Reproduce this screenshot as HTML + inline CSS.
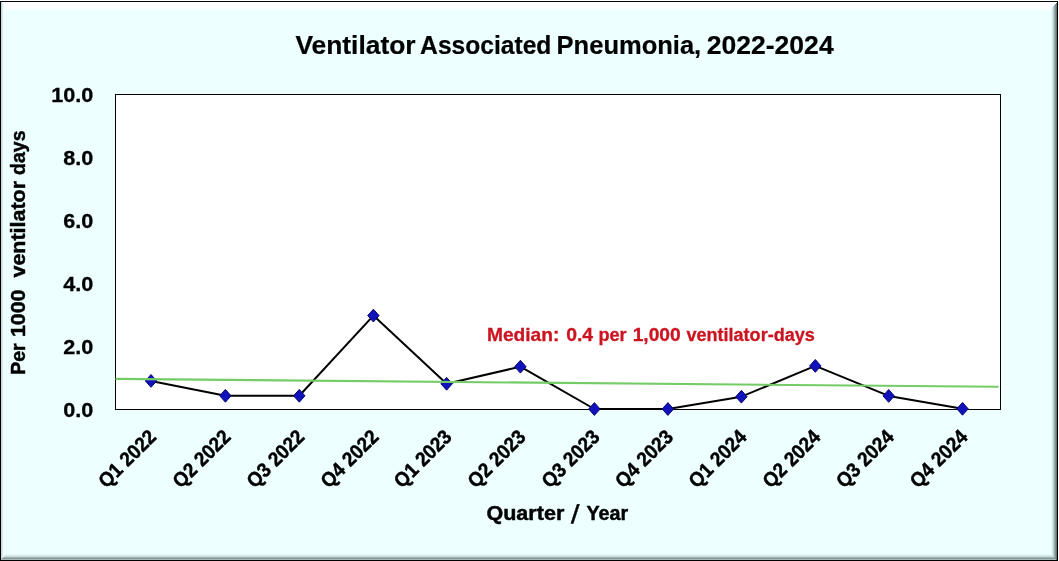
<!DOCTYPE html>
<html><head><meta charset="utf-8"><title>Ventilator Associated Pneumonia, 2022-2024</title>
<style>
html,body{margin:0;padding:0;background:#fff;width:1059px;height:561px;overflow:hidden}
svg{display:block}
text{font-family:"Liberation Sans",Arial,sans-serif;font-weight:bold;paint-order:stroke fill;white-space:pre}
</style></head><body>
<svg width="1059" height="561" viewBox="0 0 1059 561">
<rect x="0" y="0" width="1059" height="561" fill="#ffffff"/>
<rect x="1" y="2" width="1056" height="558" fill="#edffff"/>
<rect x="1" y="2" width="1056" height="1" fill="#ffffff"/>
<rect x="1" y="3" width="1056" height="1" fill="#ffffff"/>
<rect x="1" y="4" width="1056" height="1" fill="#ffffff"/>
<rect x="1" y="5" width="1056" height="1" fill="#ffffff"/>
<rect x="1" y="6" width="1056" height="1" fill="#ffffff"/>
<rect x="1" y="7" width="1056" height="1" fill="#ffffff"/>
<rect x="1" y="8" width="1056" height="1" fill="#fbffff"/>
<rect x="1" y="9" width="1056" height="1" fill="#f6ffff"/>
<rect x="1" y="10" width="1056" height="1" fill="#f1ffff"/>
<rect x="1" y="2" width="1" height="558" fill="#c6d6d6"/>
<rect x="2" y="2" width="1" height="558" fill="#deeeee"/>
<rect x="3" y="2" width="1" height="558" fill="#e8fafa"/>
<rect x="1051" y="8" width="1" height="552" fill="#e6f8f8"/>
<rect x="1052" y="7" width="1" height="553" fill="#d4e8e8"/>
<rect x="1053" y="6" width="1" height="554" fill="#b8cece"/>
<rect x="1054" y="5" width="1" height="555" fill="#9aafaf"/>
<rect x="1055" y="4" width="1" height="556" fill="#7c9191"/>
<rect x="1056" y="3" width="1" height="557" fill="#607272"/>
<rect x="6" y="554" width="1045" height="1" fill="#e6f8f8"/>
<rect x="5" y="555" width="1047" height="1" fill="#daecec"/>
<rect x="4" y="556" width="1049" height="1" fill="#c4d8d8"/>
<rect x="3" y="557" width="1051" height="1" fill="#a4b8b8"/>
<rect x="2" y="558" width="1053" height="1" fill="#839696"/>
<rect x="1" y="559" width="1055" height="1" fill="#abbcbc"/>
<rect x="0" y="1" width="1058" height="1" fill="#000"/>
<rect x="0" y="560" width="1058" height="1" fill="#000"/>
<rect x="0" y="1" width="1" height="560" fill="#000"/>
<rect x="1057" y="1" width="1" height="560" fill="#000"/>
<text transform="translate(0,54.3) translate(295.40,0) scale(1.0353,1)" font-size="25.5" fill="#000" style="stroke:#000;stroke-width:0.2px">Ventilator</text>
<text transform="translate(0,54.3) translate(420.12,0) scale(0.9657,1)" font-size="25.5" fill="#000" style="stroke:#000;stroke-width:0.2px">Associated</text>
<text transform="translate(0,54.3) translate(556.60,0) scale(1.0007,1)" font-size="25.5" fill="#000" style="stroke:#000;stroke-width:0.2px">Pneumonia,</text>
<text transform="translate(0,54.3) translate(706.72,0) scale(1.0416,1)" font-size="25.5" fill="#000" style="stroke:#000;stroke-width:0.2px">2022-2024</text>
<rect x="115.5" y="94.5" width="885" height="315" fill="#ffffff" stroke="#000" stroke-width="1"/>
<text transform="translate(93.2,409.3) scale(1.03,1)" dy="0.35em" font-size="21" text-anchor="end" fill="#000" style="stroke:#000;stroke-width:0.3px">0.0</text>
<text transform="translate(93.2,346.3) scale(1.03,1)" dy="0.35em" font-size="21" text-anchor="end" fill="#000" style="stroke:#000;stroke-width:0.3px">2.0</text>
<text transform="translate(93.2,283.3) scale(1.03,1)" dy="0.35em" font-size="21" text-anchor="end" fill="#000" style="stroke:#000;stroke-width:0.3px">4.0</text>
<text transform="translate(93.2,220.3) scale(1.03,1)" dy="0.35em" font-size="21" text-anchor="end" fill="#000" style="stroke:#000;stroke-width:0.3px">6.0</text>
<text transform="translate(93.2,157.3) scale(1.03,1)" dy="0.35em" font-size="21" text-anchor="end" fill="#000" style="stroke:#000;stroke-width:0.3px">8.0</text>
<text transform="translate(93.2,94.3) scale(1.03,1)" dy="0.35em" font-size="21" text-anchor="end" fill="#000" style="stroke:#000;stroke-width:0.3px">10.0</text>
<text transform="translate(24.9,0) rotate(-90) translate(-374.87,0) scale(0.9385,1)" font-size="20.9" fill="#000" style="stroke:#000;stroke-width:0.45px">Per</text>
<text transform="translate(24.9,0) rotate(-90) translate(-337.02,0) scale(1.0211,1)" font-size="20.9" fill="#000" style="stroke:#000;stroke-width:0.45px">1000</text>
<text transform="translate(24.9,0) rotate(-90) translate(-277.49,0) scale(1.0265,1)" font-size="20.9" fill="#000" style="stroke:#000;stroke-width:0.45px">ventilator</text>
<text transform="translate(24.9,0) rotate(-90) translate(-175.07,0) scale(0.9376,1)" font-size="20.9" fill="#000" style="stroke:#000;stroke-width:0.45px">days</text>
<text transform="translate(152.40,433.0) rotate(-45) scale(0.93,1)" font-size="20.2" text-anchor="end" dy="0.35em" fill="#000" style="stroke:#000;stroke-width:0.45px">Q1 2022</text>
<text transform="translate(226.80,433.0) rotate(-45) scale(0.93,1)" font-size="20.2" text-anchor="end" dy="0.35em" fill="#000" style="stroke:#000;stroke-width:0.45px">Q2 2022</text>
<text transform="translate(300.70,433.0) rotate(-45) scale(0.93,1)" font-size="20.2" text-anchor="end" dy="0.35em" fill="#000" style="stroke:#000;stroke-width:0.45px">Q3 2022</text>
<text transform="translate(374.80,433.0) rotate(-45) scale(0.93,1)" font-size="20.2" text-anchor="end" dy="0.35em" fill="#000" style="stroke:#000;stroke-width:0.45px">Q4 2022</text>
<text transform="translate(448.00,433.0) rotate(-45) scale(0.93,1)" font-size="20.2" text-anchor="end" dy="0.35em" fill="#000" style="stroke:#000;stroke-width:0.45px">Q1 2023</text>
<text transform="translate(521.80,433.0) rotate(-45) scale(0.93,1)" font-size="20.2" text-anchor="end" dy="0.35em" fill="#000" style="stroke:#000;stroke-width:0.45px">Q2 2023</text>
<text transform="translate(595.80,433.0) rotate(-45) scale(0.93,1)" font-size="20.2" text-anchor="end" dy="0.35em" fill="#000" style="stroke:#000;stroke-width:0.45px">Q3 2023</text>
<text transform="translate(669.30,433.0) rotate(-45) scale(0.93,1)" font-size="20.2" text-anchor="end" dy="0.35em" fill="#000" style="stroke:#000;stroke-width:0.45px">Q4 2023</text>
<text transform="translate(742.80,433.0) rotate(-45) scale(0.93,1)" font-size="20.2" text-anchor="end" dy="0.35em" fill="#000" style="stroke:#000;stroke-width:0.45px">Q1 2024</text>
<text transform="translate(816.70,433.0) rotate(-45) scale(0.93,1)" font-size="20.2" text-anchor="end" dy="0.35em" fill="#000" style="stroke:#000;stroke-width:0.45px">Q2 2024</text>
<text transform="translate(890.10,433.0) rotate(-45) scale(0.93,1)" font-size="20.2" text-anchor="end" dy="0.35em" fill="#000" style="stroke:#000;stroke-width:0.45px">Q3 2024</text>
<text transform="translate(963.90,433.0) rotate(-45) scale(0.93,1)" font-size="20.2" text-anchor="end" dy="0.35em" fill="#000" style="stroke:#000;stroke-width:0.45px">Q4 2024</text>
<text transform="translate(0,519.7) translate(486.47,0) scale(1.0612,1)" font-size="20.3" fill="#000" style="stroke:#000;stroke-width:0.45px">Quarter</text>
<text transform="translate(0,519.7) translate(586.50,0) scale(0.9731,1)" font-size="20.3" fill="#000" style="stroke:#000;stroke-width:0.45px">Year</text>
<text transform="translate(570.8,522.6) skewX(-10) scale(1,1.27)" font-size="20.3" fill="#000" style="stroke:#000;stroke-width:0.45px">/</text>
<polyline points="151.00,380.90 225.40,395.80 299.30,395.80 373.40,315.60 446.60,383.80 520.40,366.70 594.40,409.00 667.90,409.00 741.40,396.70 815.30,365.90 888.70,395.90 962.50,408.80" fill="none" stroke="#000" stroke-width="2.0" stroke-linejoin="round"/>
<path d="M151.00,374.50 L156.70,380.90 L151.00,387.30 L145.30,380.90 Z" fill="#1212bc" stroke="#08086e" stroke-width="1"/>
<path d="M225.40,389.40 L231.10,395.80 L225.40,402.20 L219.70,395.80 Z" fill="#1212bc" stroke="#08086e" stroke-width="1"/>
<path d="M299.30,389.40 L305.00,395.80 L299.30,402.20 L293.60,395.80 Z" fill="#1212bc" stroke="#08086e" stroke-width="1"/>
<path d="M373.40,309.20 L379.10,315.60 L373.40,322.00 L367.70,315.60 Z" fill="#1212bc" stroke="#08086e" stroke-width="1"/>
<path d="M446.60,377.40 L452.30,383.80 L446.60,390.20 L440.90,383.80 Z" fill="#1212bc" stroke="#08086e" stroke-width="1"/>
<path d="M520.40,360.30 L526.10,366.70 L520.40,373.10 L514.70,366.70 Z" fill="#1212bc" stroke="#08086e" stroke-width="1"/>
<path d="M594.40,402.60 L600.10,409.00 L594.40,415.40 L588.70,409.00 Z" fill="#1212bc" stroke="#08086e" stroke-width="1"/>
<path d="M667.90,402.60 L673.60,409.00 L667.90,415.40 L662.20,409.00 Z" fill="#1212bc" stroke="#08086e" stroke-width="1"/>
<path d="M741.40,390.30 L747.10,396.70 L741.40,403.10 L735.70,396.70 Z" fill="#1212bc" stroke="#08086e" stroke-width="1"/>
<path d="M815.30,359.50 L821.00,365.90 L815.30,372.30 L809.60,365.90 Z" fill="#1212bc" stroke="#08086e" stroke-width="1"/>
<path d="M888.70,389.50 L894.40,395.90 L888.70,402.30 L883.00,395.90 Z" fill="#1212bc" stroke="#08086e" stroke-width="1"/>
<path d="M962.50,402.40 L968.20,408.80 L962.50,415.20 L956.80,408.80 Z" fill="#1212bc" stroke="#08086e" stroke-width="1"/>
<line x1="115.5" y1="378.9" x2="998.5" y2="386.8" stroke="#74cc66" stroke-width="2.1"/>
<text transform="translate(0,340.9) translate(486.96,0) scale(1.0418,1)" font-size="18.4" fill="#cc1420" style="stroke:#cc1420;stroke-width:0.3px">Median:</text>
<text transform="translate(0,340.9) translate(566.17,0) scale(1.0535,1)" font-size="18.4" fill="#cc1420" style="stroke:#cc1420;stroke-width:0.3px">0.4</text>
<text transform="translate(0,340.9) translate(598.41,0) scale(0.9855,1)" font-size="18.4" fill="#cc1420" style="stroke:#cc1420;stroke-width:0.3px">per</text>
<text transform="translate(0,340.9) translate(632.66,0) scale(1.0449,1)" font-size="18.4" fill="#cc1420" style="stroke:#cc1420;stroke-width:0.3px">1,000</text>
<text transform="translate(0,340.9) translate(686.40,0) scale(0.9820,1)" font-size="18.4" fill="#cc1420" style="stroke:#cc1420;stroke-width:0.3px">ventilator-days</text>
</svg>
</body></html>
